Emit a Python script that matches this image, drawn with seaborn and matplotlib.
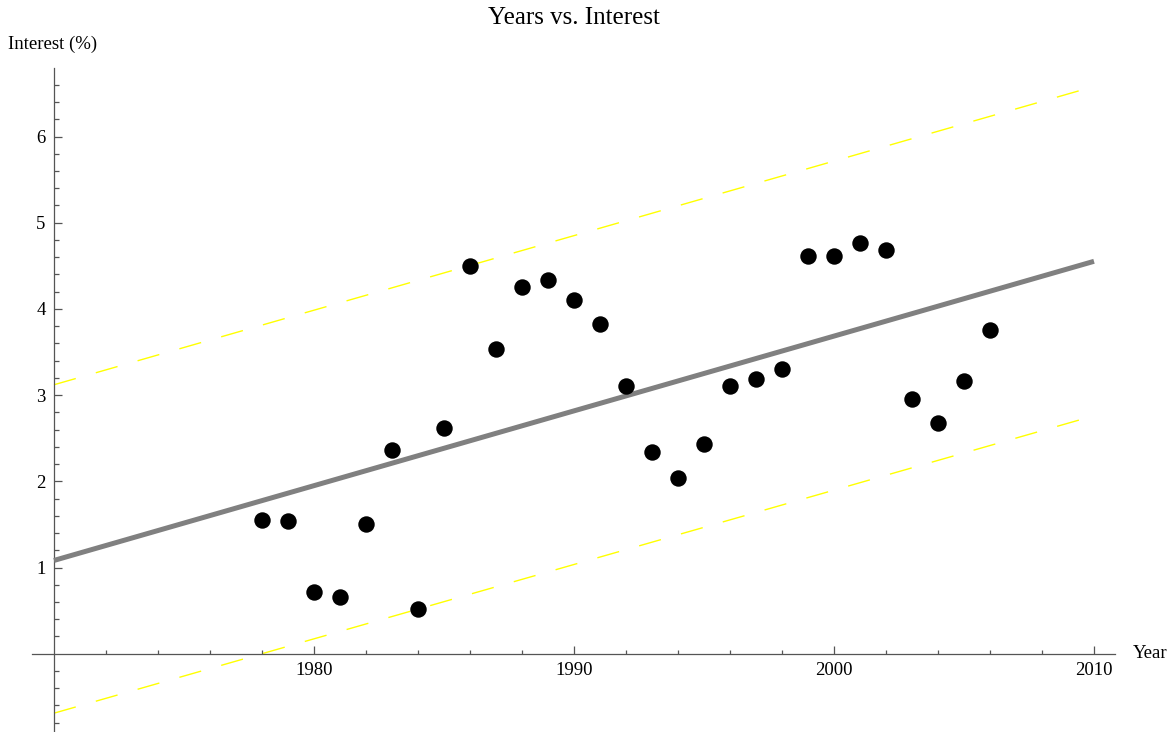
import numpy as np
import pandas as pd
import matplotlib
matplotlib.use("Agg")
import matplotlib.pyplot as plt
from matplotlib.ticker import FixedLocator
import seaborn as sns

# ---- data ----
years = [1978, 1979, 1980, 1981, 1982, 1983, 1984, 1985, 1986, 1987,
         1988, 1989, 1990, 1991, 1992, 1993, 1994, 1995, 1996, 1997,
         1998, 1999, 2000, 2001, 2002, 2003, 2004, 2005, 2006]
interest = [1.55, 1.54, 0.72, 0.66, 1.50, 2.36, 0.515, 2.62, 4.50, 3.53,
            4.25, 4.33, 4.10, 3.82, 3.11, 2.34, 2.04, 2.43, 3.10, 3.19,
            3.30, 4.61, 4.61, 4.76, 4.68, 2.96, 2.68, 3.16, 3.76]
line_years = [1970, 2010]
band_upper = [3.12, 6.58]
band_lower = [-0.69, 2.76]
x_tick_labels = ["1980", "1990", "2000", "2010"]
y_tick_labels = ["1", "2", "3", "4", "5", "6"]

df = pd.DataFrame({"Year": years, "Interest": interest})

# least-squares fit, as in the reference
slope, intercept = np.polyfit(years, interest, 1)
fit_df = pd.DataFrame({"Year": line_years,
                       "Fit": [slope * y + intercept for y in line_years]})
band_df = pd.DataFrame({"Year": line_years, "Upper": band_upper, "Lower": band_lower})

sns.set_theme(style="white")
plt.rcParams["font.family"] = ["Liberation Serif", "DejaVu Serif"]

W, H = 1174, 732
fig = plt.figure(figsize=(W / 100, H / 100), dpi=100)
# axes box in pixels: x 32..1115, y 68..732
ax = fig.add_axes([32 / W, 0, (1115 - 32) / W, (732 - 68) / H])

x0 = 1970 + (32 - 54) / 26.0
x1 = 1970 + (1115 - 54) / 26.0
y_top = (653.7 - 68) / 86.2
y_bot = (653.7 - 732) / 86.2
ax.set_xlim(x0, x1)
ax.set_ylim(y_bot, y_top)

ax.patch.set_alpha(0)

# yellow dashed bands
for col in ["Upper", "Lower"]:
    sns.lineplot(data=band_df, x="Year", y=col, ax=ax, color="#FFFF00",
                 linewidth=1.0, linestyle=(0, (16.3, 15.0)), zorder=2)
# grey fit line
sns.lineplot(data=fit_df, x="Year", y="Fit", ax=ax, color="#808080",
             linewidth=3.6, solid_capstyle="butt", zorder=3)
# points
sns.scatterplot(data=df, x="Year", y="Interest", ax=ax, color="black",
                s=140, linewidth=0, zorder=4)

ax.set_xlabel("")
ax.set_ylabel("")

# axes crossing at (1970, 0)
for s in ["top", "right"]:
    ax.spines[s].set_visible(False)
ax.spines["left"].set_position(("data", 1970))
ax.spines["bottom"].set_position(("data", 0))
for s in ["left", "bottom"]:
    ax.spines[s].set_color("#555555")
    ax.spines[s].set_linewidth(0.9)

ax.xaxis.set_major_locator(FixedLocator([1980, 1990, 2000, 2010]))
ax.set_xticklabels(x_tick_labels)
ax.xaxis.set_minor_locator(FixedLocator([y for y in range(1972, 2011, 2) if y % 10 != 0]))
ax.yaxis.set_major_locator(FixedLocator([1, 2, 3, 4, 5, 6]))
ax.set_yticklabels(y_tick_labels)
ax.yaxis.set_minor_locator(FixedLocator(
    [round(v * 0.2, 1) for v in range(-4, 35) if v % 5 != 0]))

ax.tick_params(axis="x", which="major", direction="in", length=6, width=0.9,
               color="#555555", labelcolor="black", labelsize=13.5, pad=6, bottom=True)
ax.tick_params(axis="x", which="minor", direction="in", length=3, width=0.9,
               color="#555555", bottom=True)
ax.tick_params(axis="y", which="major", direction="in", length=6, width=0.9,
               color="#555555", labelcolor="black", labelsize=13.5, pad=6, left=True)
ax.tick_params(axis="y", which="minor", direction="in", length=3.7, width=0.9,
               color="#555555", left=True)

fig.text(573.5 / W, 1 - 17.5 / H, "Years vs. Interest", ha="center", va="center",
         fontsize=18, color="black")
fig.text(8 / W, 1 - 44 / H, "Interest (%)", ha="left", va="center",
         fontsize=13.5, color="black")
fig.text(1133 / W, 1 - 653 / H, "Year", ha="left", va="center",
         fontsize=13.5, color="black")

fig.savefig("out.png", dpi=100, facecolor="white")
